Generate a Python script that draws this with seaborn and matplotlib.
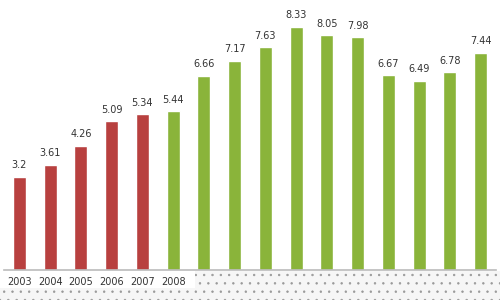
import matplotlib
matplotlib.use("Agg")
import matplotlib.pyplot as plt
import seaborn as sns
import pandas as pd
from matplotlib.patches import Rectangle

years = [str(y) for y in range(2003, 2019)]
values = [3.2, 3.61, 4.26, 5.09, 5.34, 5.44, 6.66, 7.17, 7.63, 8.33, 8.05, 7.98, 6.67, 6.49, 6.78, 7.44]
value_labels = ["3.2", "3.61", "4.26", "5.09", "5.34", "5.44", "6.66", "7.17", "7.63", "8.33", "8.05", "7.98", "6.67", "6.49", "6.78", "7.44"]
tick_labels = ["2003", "2004", "2005", "2006", "2007", "2008"] + [""] * 10
groups = ["red"] * 5 + ["green"] * 11

df = pd.DataFrame({"year": years, "value": values, "group": groups})

sns.set_theme(style="white")
plt.rcParams['font.family'] = ['DejaVu Sans']
plt.rcParams['hatch.linewidth'] = 0.5

fig = plt.figure(figsize=(5, 3), dpi=100)
ax = fig.add_axes([0.008, 0.1, 0.984, 0.9])

palette = {"red": "#b8403f", "green": "#8ab43a"}
sns.barplot(data=df, x="year", y="value", hue="group", palette=palette,
            dodge=False, width=0.42, legend=False, ax=ax, saturation=1)

for i, (v, lab) in enumerate(zip(values, value_labels)):
    ax.text(i, v + 0.22, lab, ha="center", va="bottom", fontsize=7, color="#333333")

ax.set_xlim(-0.5, 15.5)
ax.set_ylim(0, 9.25)
ax.set_xlabel("")
ax.set_ylabel("")
ax.set_yticks([])
ax.set_xticks(range(16))
ax.set_xticklabels(tick_labels, fontsize=7, color="#333333")
ax.tick_params(axis="x", length=0, pad=5)
for s in ["top", "right", "left"]:
    ax.spines[s].set_visible(False)
ax.spines["bottom"].set_color("#bbbbbb")
ax.spines["bottom"].set_linewidth(1.2)

# dotted background at the bottom
fig.patches.append(Rectangle((0.39, 0.0), 0.61, 0.097, transform=fig.transFigure,
                             facecolor="#f6f6f6", edgecolor="#999999", hatch="..",
                             linewidth=0, zorder=0))
fig.patches.append(Rectangle((0.0, 0.0), 1.0, 0.04, transform=fig.transFigure,
                             facecolor="#f6f6f6", edgecolor="#999999", hatch="..",
                             linewidth=0, zorder=0))

fig.savefig("out.png", dpi=100)
